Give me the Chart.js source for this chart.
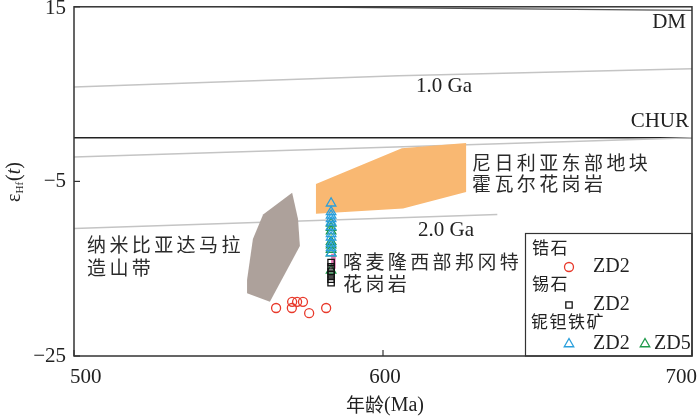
<!DOCTYPE html>
<html>
<head>
<meta charset="utf-8">
<script src="https://cdn.jsdelivr.net/npm/chart.js@4.4.0/dist/chart.umd.min.js"></script>
<style>
  html, body { margin: 0; padding: 0; background: #fff; }
  #wrap { width: 700px; height: 418px; }
</style>
</head>
<body>
<div id="wrap"><canvas id="chart" width="700" height="418"></canvas></div>
<script>
// 軸の目盛り
const xTicks = [500, 600, 700];
const yTicks = [15, -5, -25];

// 参考線 [年齢(Ma), εHf(t)]
const dmLine = [[500, 15.2], [700, 14.6]];
const ga10Line = [[500, 5.8], [605, 7.1], [700, 7.9]];
const crustLine = [[500, -2.2], [700, 0.0]];
const churLine = [[500, 0], [700, 0]];
const ga20Line = [[500, -10.4], [637, -8.8]];

// 比較フィールド
const namibiaField = [[570.6, -6.3], [572.5, -9.3], [573.1, -12.4], [563.4, -18.8], [556.0, -17.8], [556.0, -16.3], [557.9, -11.6], [561.2, -8.8], [570.6, -6.3]];
const nigeriaField = [[578.3, -5.3], [606.1, -1.2], [626.9, -0.6], [626.9, -6.2], [606.5, -8.1], [578.3, -8.7], [578.3, -5.3]];
const cameroonField = [[583.2, -13.3], [584.7, -13.3], [584.7, -15.0], [583.2, -15.0], [583.2, -13.3]];

// 試料データ
const zirconAge = [565.4, 570.5, 570.6, 572.2, 574.1, 576.1, 581.6];
const zirconHf = [-19.5, -19.5, -18.8, -18.8, -18.8, -20.1, -19.5];
const cassAge = [583.2, 583.2, 583.2, 583.2, 583.2, 583.2];
const cassHf = [-14.3, -14.8, -15.3, -15.7, -16.2, -16.6];
const coltanZD2Age = [583.2, 583.2, 583.2, 583.2, 583.2, 583.2, 583.2, 583.2, 583.2, 583.2, 583.2];
const coltanZD2Hf = [-7.5, -8.5, -8.9, -9.3, -9.7, -10.2, -11.0, -11.4, -12.1, -12.6, -13.2];
const coltanZD5Age = [583.2, 583.2, 583.2, 583.2, 583.2, 583.2, 583.2, 583.2];
const coltanZD5Hf = [-9.8, -10.3, -10.7, -11.9, -12.3, -12.8, -13.2, -15.2];

const RED = '#e8392b', BLACK = '#111', BLUE = '#2a9fdc', GREEN = '#1f9a4a';
const SERIF = '"Liberation Serif", "DejaVu Serif", serif';
const CJK = '"Noto Sans CJK SC", sans-serif';

const toXY = arr => arr.map(p => ({ x: p[0], y: p[1] }));
const zip = (xs, ys) => xs.map((x, i) => ({ x: x, y: ys[i] }));

function lineSet(pts, color, width) {
    return { type: 'line', data: toXY(pts), borderColor: color, borderWidth: width, pointRadius: 0, fill: false, order: 3 };
}
function fieldSet(pts, color) {
    return { type: 'line', data: toXY(pts), borderColor: color, borderWidth: 0, backgroundColor: color, pointRadius: 0, fill: 'shape', order: 2 };
}
function pointSet(xs, ys, style, color, r) {
    return { type: 'scatter', data: zip(xs, ys), pointStyle: style, pointRadius: r, borderColor: color, backgroundColor: 'transparent', pointBorderWidth: 1.3, order: 1 };
}

// 中国語は一文字ずつ描く（字間を広めに）
function cjkText(ctx, str, x, y, size, step) {
    ctx.font = size + 'px ' + CJK;
    ctx.textAlign = 'left';
    ctx.textBaseline = 'middle';
    [...str].forEach((ch, i) => ctx.fillText(ch, x + i * step, y));
}
function serifText(ctx, str, x, y, size, align) {
    ctx.font = size + 'px ' + SERIF;
    ctx.textAlign = align;
    ctx.textBaseline = 'middle';
    ctx.fillText(str, x, y);
}
function marker(ctx, style, color, x, y, r) {
    ctx.save();
    ctx.strokeStyle = color;
    ctx.fillStyle = 'rgba(0,0,0,0)';
    ctx.lineWidth = 1.3;
    Chart.helpers.drawPoint(ctx, { pointStyle: style, radius: r, borderWidth: 1.3 }, x, y);
    ctx.restore();
}

const decorPlugin = {
    id: 'decor',
    afterDraw(chart) {
        const ctx = chart.ctx;
        const xs = chart.scales.x, ys = chart.scales.y;
        const a = chart.chartArea;
        ctx.save();
        ctx.fillStyle = '#222';
        ctx.strokeStyle = '#333';

        // 枠
        ctx.lineWidth = 1.5;
        ctx.strokeRect(a.left, a.top, a.right - a.left, a.bottom - a.top);

        // 内向きの目盛り
        ctx.lineWidth = 1.2;
        xTicks.forEach(v => {
            const px = xs.getPixelForValue(v);
            ctx.beginPath(); ctx.moveTo(px, a.bottom); ctx.lineTo(px, a.bottom - 6); ctx.stroke();
        });
        yTicks.forEach(v => {
            const py = ys.getPixelForValue(v);
            ctx.beginPath(); ctx.moveTo(a.left, py); ctx.lineTo(a.left + 6, py); ctx.stroke();
        });

        // 目盛りラベル
        xTicks.forEach((v, i) => {
            const px = xs.getPixelForValue(v);
            if (i === 0) serifText(ctx, String(v), px - 4, 377, 21, 'left');
            else if (i === xTicks.length - 1) serifText(ctx, String(v), px + 5, 377, 21, 'right');
            else serifText(ctx, String(v), px + 2, 377, 21, 'center');
        });
        yTicks.forEach(v => {
            const py = Math.max(ys.getPixelForValue(v), 8);
            const txt = v < 0 ? '\u2212' + Math.abs(v) : String(v);
            serifText(ctx, txt, 66, py, 21, 'right');
        });

        // x 軸タイトル
        ctx.font = '19px ' + CJK;
        const w1 = ctx.measureText('年龄').width;
        ctx.font = '20px ' + SERIF;
        const w2 = ctx.measureText('(Ma)').width;
        const sx = 385 - (w1 + w2) / 2;
        ctx.textAlign = 'left'; ctx.textBaseline = 'middle';
        ctx.font = '19px ' + CJK; ctx.fillText('年龄', sx, 405);
        ctx.font = '20px ' + SERIF; ctx.fillText('(Ma)', sx + w1, 406);

        // y 軸タイトル εHf(t)
        ctx.save();
        ctx.translate(14, 182);
        ctx.rotate(-Math.PI / 2);
        ctx.textAlign = 'left'; ctx.textBaseline = 'alphabetic';
        ctx.font = '20px ' + SERIF; const we = ctx.measureText('\u03b5').width;
        ctx.font = '11px ' + SERIF; const wh = ctx.measureText('Hf').width;
        ctx.font = '20px ' + SERIF; const wp = ctx.measureText('(').width;
        ctx.font = 'italic 20px ' + SERIF; const wt = ctx.measureText('t').width;
        const total = we + wh + wp * 2 + wt + 1;
        let cx = -total / 2;
        ctx.font = '20px ' + SERIF; ctx.fillText('\u03b5', cx, 6); cx += we;
        ctx.font = '11px ' + SERIF; ctx.fillText('Hf', cx, 9); cx += wh + 1;
        ctx.font = '20px ' + SERIF; ctx.fillText('(', cx, 6); cx += wp;
        ctx.font = 'italic 20px ' + SERIF; ctx.fillText('t', cx, 6); cx += wt;
        ctx.font = '20px ' + SERIF; ctx.fillText(')', cx, 6);
        ctx.restore();

        // 参考線ラベル
        serifText(ctx, 'DM', 686, 22, 21, 'right');
        serifText(ctx, '1.0 Ga', 416, 86, 21, 'left');
        serifText(ctx, 'CHUR', 689, 121, 21, 'right');
        serifText(ctx, '2.0 Ga', 418, 230, 21, 'left');

        // フィールド名
        ctx.fillStyle = '#2a2a2a';
        cjkText(ctx, '尼日利亚东部地块', 472, 163, 19, 22.4);
        cjkText(ctx, '霍瓦尔花岗岩', 472, 184, 19, 22.4);
        cjkText(ctx, '纳米比亚达马拉', 87, 245, 19, 22.4);
        cjkText(ctx, '造山带', 87, 268, 19, 22.4);
        cjkText(ctx, '喀麦隆西部邦冈特', 343, 262, 19, 22.4);
        cjkText(ctx, '花岗岩', 343, 284, 19, 22.4);

        // 凡例
        ctx.lineWidth = 1.2;
        ctx.strokeStyle = '#333';
        ctx.strokeRect(525.5, 233.5, a.right - 525.5, a.bottom - 233.5);
        ctx.fillStyle = '#222';
        cjkText(ctx, '锆石', 532, 248, 17, 18.5);
        marker(ctx, 'circle', RED, 569, 267, 4.5);
        serifText(ctx, 'ZD2', 593, 267, 20, 'left');
        cjkText(ctx, '锡石', 532, 284, 17, 18.5);
        marker(ctx, 'rect', BLACK, 569, 305, 4.5);
        serifText(ctx, 'ZD2', 593, 305, 20, 'left');
        cjkText(ctx, '铌钽铁矿', 531, 322, 17, 18.5);
        marker(ctx, 'triangle', BLUE, 569, 344, 5.5);
        serifText(ctx, 'ZD2', 593, 344, 20, 'left');
        marker(ctx, 'triangle', GREEN, 645, 344, 5.5);
        serifText(ctx, 'ZD5', 654, 344, 20, 'left');

        ctx.restore();
    }
};

const ctx = document.getElementById('chart').getContext('2d');
new Chart(ctx, {
    type: 'scatter',
    data: {
        datasets: [
            pointSet(zirconAge, zirconHf, 'circle', RED, 4.5),
            pointSet(cassAge, cassHf, 'rect', BLACK, 4.5),
            pointSet(coltanZD2Age, coltanZD2Hf, 'triangle', BLUE, 5.5),
            pointSet(coltanZD5Age, coltanZD5Hf, 'triangle', GREEN, 5.5),
            fieldSet(cameroonField, '#e37bb4'),
            fieldSet(namibiaField, '#ada19b'),
            fieldSet(nigeriaField, '#f9b872'),
            lineSet(dmLine, '#555', 1.3),
            lineSet(ga10Line, '#c4c4c4', 1.5),
            lineSet(crustLine, '#c4c4c4', 1.5),
            lineSet(churLine, '#222', 1.5),
            lineSet(ga20Line, '#c4c4c4', 1.5)
        ]
    },
    options: {
        responsive: false,
        animation: false,
        layout: { padding: { left: 74, right: 8, top: 1.5, bottom: 62 } },
        plugins: { legend: { display: false }, tooltip: { enabled: false } },
        scales: {
            x: { type: 'linear', min: 500, max: 700, display: false },
            y: { type: 'linear', min: -25, max: 15, display: false }
        }
    },
    plugins: [decorPlugin]
});
</script>
</body>
</html>
